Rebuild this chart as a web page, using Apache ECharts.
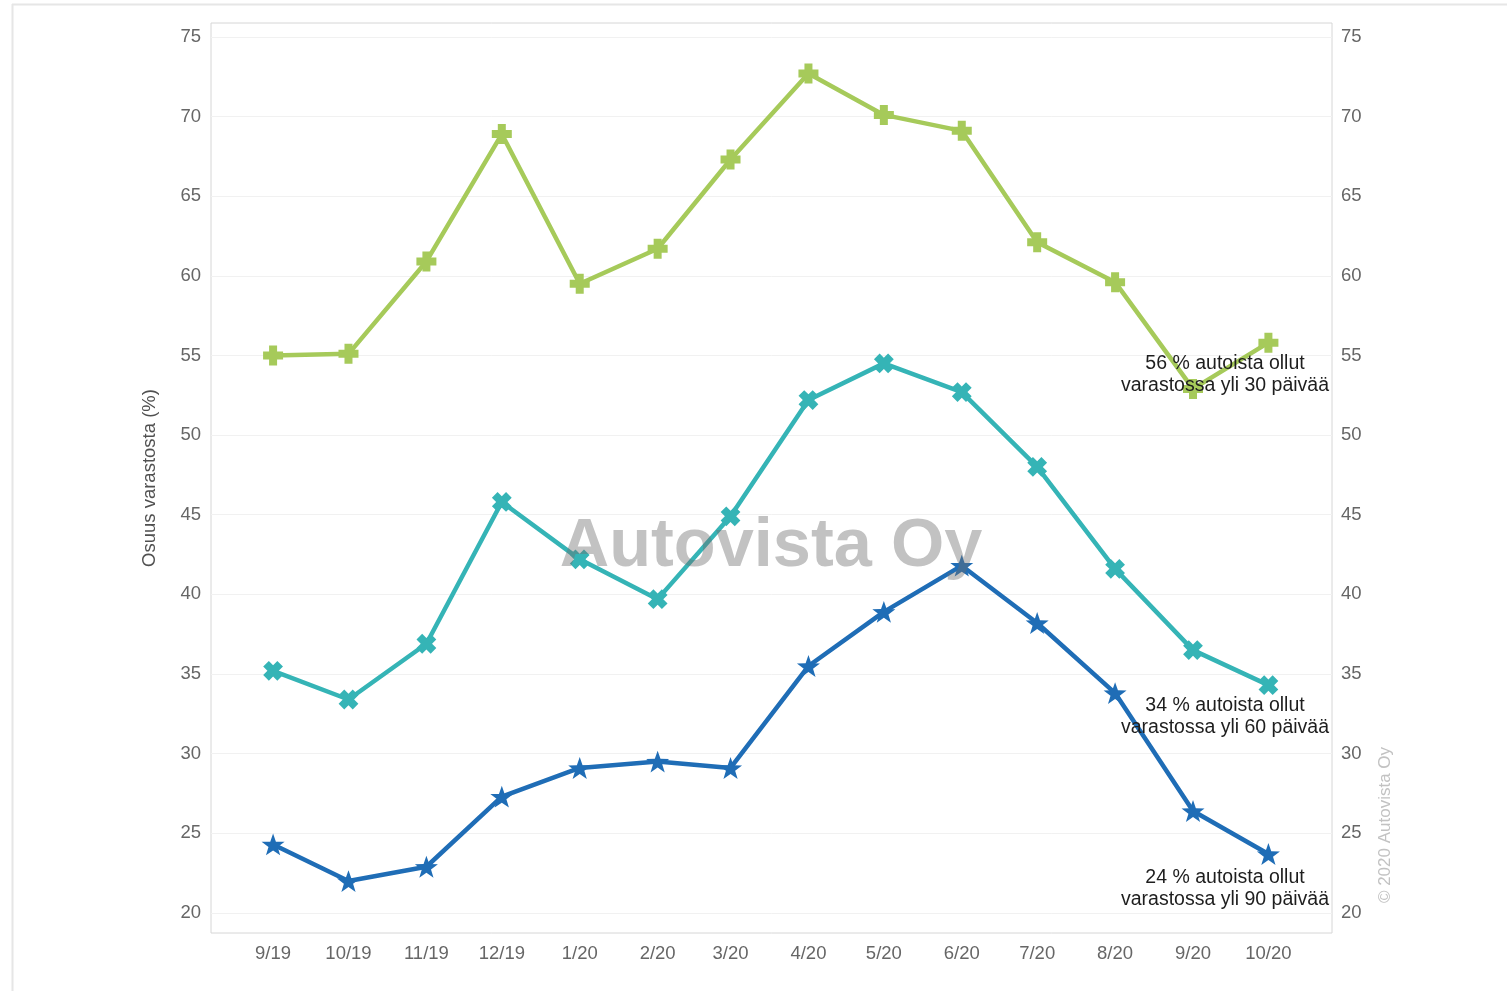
<!DOCTYPE html>
<html>
<head>
<meta charset="utf-8">
<script src="https://cdn.jsdelivr.net/npm/echarts@6/dist/echarts.min.js"></script>
<style>
html,body{margin:0;padding:0;background:#fff;}
#chart{width:1507px;height:991px;}
</style>
</head>
<body>
<div id="chart"></div>
<script>
// ---- data ----
const months = ['2019-09-01','2019-10-01','2019-11-01','2019-12-01','2020-01-01','2020-02-01','2020-03-01','2020-04-01','2020-05-01','2020-06-01','2020-07-01','2020-08-01','2020-09-01','2020-10-01'];
const tickLabels = ['9/19','10/19','11/19','12/19','1/20','2/20','3/20','4/20','5/20','6/20','7/20','8/20','9/20','10/20'];
const over30 = [55.0, 55.1, 60.9, 68.9, 59.5, 61.7, 67.3, 72.7, 70.1, 69.1, 62.1, 59.6, 52.9, 55.8];
const over60 = [35.2, 33.4, 36.9, 45.8, 42.2, 39.7, 44.9, 52.2, 54.5, 52.7, 48.0, 41.6, 36.5, 34.3];
const over90 = [24.3, 22.0, 22.9, 27.3, 29.1, 29.5, 29.1, 35.5, 38.9, 41.8, 38.2, 33.8, 26.4, 23.7];
const yTicks = [20, 25, 30, 35, 40, 45, 50, 55, 60, 65, 70, 75];
const seriesNames = ['yli 30 päivää', 'yli 60 päivää', 'yli 90 päivää'];
const annotations = ['56 % autoista ollut\nvarastossa yli 30 päivää', '34 % autoista ollut\nvarastossa yli 60 päivää', '24 % autoista ollut\nvarastossa yli 90 päivää'];
const yTitle = 'Osuus varastosta (%)';
const watermark = 'Autovista Oy';
const copyright = '© 2020 Autovista Oy';

// ---- helpers ----
// x positions are day numbers (days since 1970-01-01), so month spacing follows month lengths
function dayNum(s){ const p = s.split('-').map(Number); return Date.UTC(p[0], p[1]-1, p[2]) / 86400000; }
const monthDays = months.map(dayNum);
function pairs(vals){ return vals.map((v,i)=>[monthDays[i], v]); }

const FONT = '"Liberation Sans", Arial, sans-serif';
const plusPath = 'path://M3,0 L7,0 L7,3 L10,3 L10,7 L7,7 L7,10 L3,10 L3,7 L0,7 L0,3 L3,3 Z';
const starPath = 'path://M0,-10 L2.351,-3.236 L9.511,-3.090 L3.804,1.236 L5.878,8.090 L0,4 L-5.878,8.090 L-3.804,1.236 L-9.511,-3.090 L-2.351,-3.236 Z';

const colors = ['#a6ca5a', '#35b4b6', '#1f6db6'];

const yAxisCommon = {
  type: 'value',
  min: 18.74,
  max: 75.87,
  axisLine: {show: false},
  axisTick: {show: false, customValues: yTicks},
  axisLabel: {customValues: yTicks, color: '#666666', fontSize: 18.5, fontFamily: FONT},
  splitLine: {show: true, lineStyle: {color: '#f1f1f1', width: 1}}
};

const chart = echarts.init(document.getElementById('chart'), null, {renderer: 'canvas'});
chart.setOption({
  backgroundColor: '#ffffff',
  animation: false,
  grid: {left: 211, right: 175, top: 23, bottom: 58, show: true, borderColor: '#d6d6d6', borderWidth: 1, backgroundColor: 'transparent'},
  xAxis: {
    type: 'value',
    min: monthDays[0] - 24.7,
    max: monthDays[monthDays.length - 1] + 25.3,
    axisLine: {show: false},
    axisTick: {show: false, customValues: monthDays},
    splitLine: {show: false},
    axisLabel: {
      customValues: monthDays,
      color: '#666666', fontSize: 18.5, fontFamily: FONT, margin: 11,
      formatter: function(v){ const i = monthDays.indexOf(v); return i >= 0 ? tickLabels[i] : ''; }
    }
  },
  yAxis: [
    Object.assign({}, yAxisCommon, {
      position: 'left',
      name: yTitle, nameLocation: 'middle', nameGap: 52,
      nameTextStyle: {color: '#505050', fontSize: 18.5, fontFamily: FONT},
      axisLabel: Object.assign({}, yAxisCommon.axisLabel, {margin: 10})
    }),
    Object.assign({}, yAxisCommon, {
      position: 'right',
      splitLine: {show: false},
      axisLabel: Object.assign({}, yAxisCommon.axisLabel, {margin: 9})
    })
  ],
  series: [
    {name: seriesNames[0], type: 'line', data: pairs(over30), color: colors[0],
     lineStyle: {width: 4.5}, symbol: plusPath, symbolSize: 20, symbolKeepAspect: true, z: 2},
    {name: seriesNames[1], type: 'line', data: pairs(over60), color: colors[1],
     lineStyle: {width: 4.5}, symbol: plusPath, symbolSize: 20, symbolRotate: 45, symbolKeepAspect: true, z: 3},
    {name: seriesNames[2], type: 'line', data: pairs(over90), color: colors[2],
     lineStyle: {width: 4.5}, symbol: starPath, symbolSize: 23, symbolKeepAspect: true, z: 4}
  ],
  graphic: [
    {type: 'line', shape: {x1: 12, y1: 4.5, x2: 1507, y2: 4.5}, style: {stroke: '#e6e6e6', lineWidth: 2}, silent: true},
    {type: 'line', shape: {x1: 12.5, y1: 4, x2: 12.5, y2: 991}, style: {stroke: '#e6e6e6', lineWidth: 2}, silent: true},
    {type: 'text', x: 1225, y: 375, z: 50, style: {text: annotations[0], fill: '#1e1e1e', font: '19.5px ' + FONT, textAlign: 'center', textVerticalAlign: 'middle', lineHeight: 22}, silent: true},
    {type: 'text', x: 1225, y: 717, z: 50, style: {text: annotations[1], fill: '#1e1e1e', font: '19.5px ' + FONT, textAlign: 'center', textVerticalAlign: 'middle', lineHeight: 22}, silent: true},
    {type: 'text', x: 1225, y: 889, z: 50, style: {text: annotations[2], fill: '#1e1e1e', font: '19.5px ' + FONT, textAlign: 'center', textVerticalAlign: 'middle', lineHeight: 22}, silent: true},
    {type: 'text', x: 771, y: 547, z: 60, style: {text: watermark, fill: 'rgba(110,110,110,0.42)', font: 'bold 68.5px ' + FONT, textAlign: 'center', textVerticalAlign: 'middle'}, silent: true},
    {type: 'text', x: 1385, y: 825, rotation: Math.PI / 2, z: 50, style: {text: copyright, fill: '#c2c2c2', font: '17px ' + FONT, textAlign: 'center', textVerticalAlign: 'middle'}, silent: true}
  ]
});
</script>
</body>
</html>
